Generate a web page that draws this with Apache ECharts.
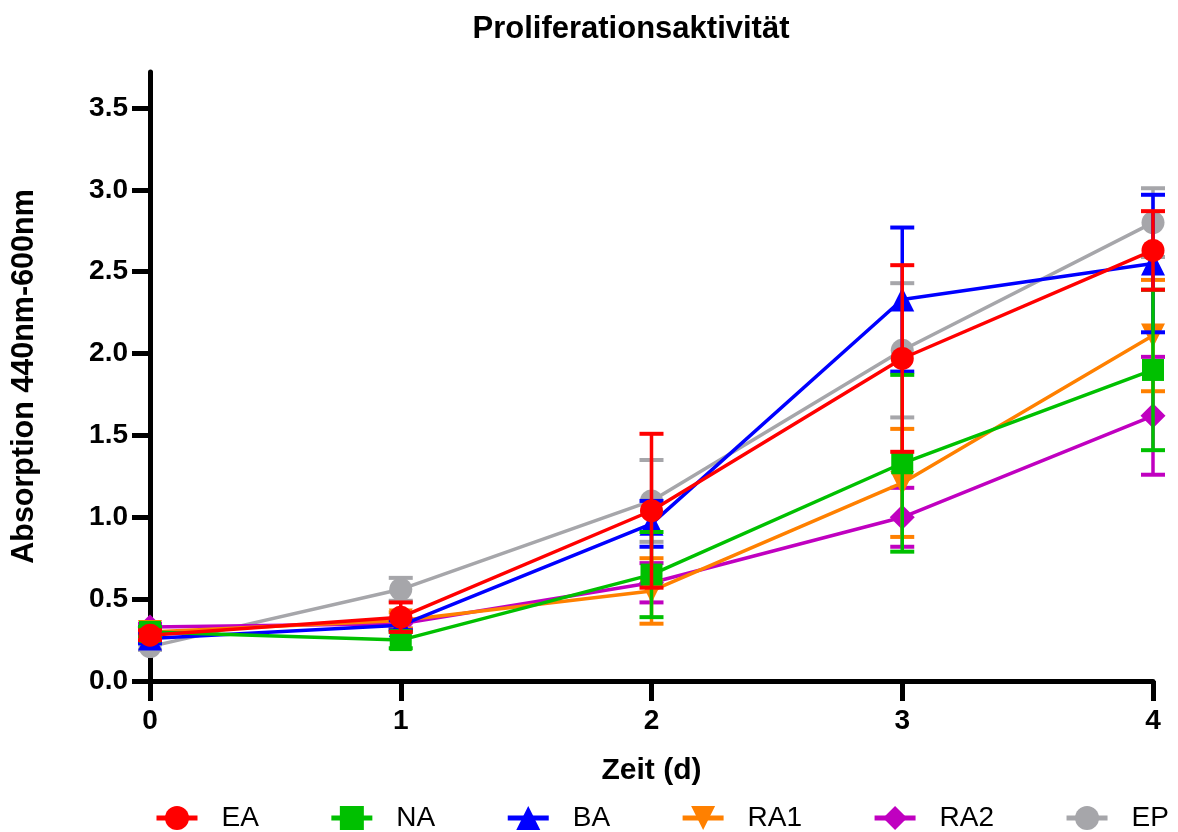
<!DOCTYPE html>
<html>
<head>
<meta charset="utf-8">
<script src="https://cdn.jsdelivr.net/npm/echarts@6/dist/echarts.min.js"></script>
<style>
  html, body { margin: 0; padding: 0; background: #fff; }
  #chart { width: 1178px; height: 832px; }
</style>
</head>
<body>
<div id="chart"></div>
<script>
// Zeitpunkte (d)
const days = [0, 1, 2, 3, 4];
const yTicks = [0, 0.5, 1.0, 1.5, 2.0, 2.5, 3.0, 3.5];

// Mittelwerte
const eaMean  = [0.28, 0.39, 1.04, 1.97, 2.63];
const naMean  = [0.30, 0.25, 0.65, 1.33, 1.90];
const baMean  = [0.26, 0.34, 0.96, 2.33, 2.55];
const ra1Mean = [0.30, 0.37, 0.55, 1.21, 2.11];
const ra2Mean = [0.33, 0.35, 0.60, 1.00, 1.62];
const epMean  = [0.21, 0.56, 1.10, 2.02, 2.80];

// Standardabweichungen
const eaSd  = [0.03, 0.09, 0.47, 0.57, 0.24];
const naSd  = [0.03, 0.05, 0.26, 0.54, 0.49];
const baSd  = [0.03, 0.03, 0.14, 0.44, 0.42];
const ra1Sd = [0.02, 0.05, 0.20, 0.33, 0.34];
const ra2Sd = [0.02, 0.03, 0.12, 0.18, 0.36];
const epSd  = [0.02, 0.07, 0.25, 0.41, 0.21];

const groups = [
  { name: 'EA',  mean: eaMean,  sd: eaSd,  color: '#FF0000', symbol: 'circle',   size: 23, rotate: 0 },
  { name: 'NA',  mean: naMean,  sd: naSd,  color: '#00C000', symbol: 'rect',     size: 22, rotate: 0 },
  { name: 'BA',  mean: baMean,  sd: baSd,  color: '#0000FF', symbol: 'triangle', size: 24, rotate: 0 },
  { name: 'RA1', mean: ra1Mean, sd: ra1Sd, color: '#FF8000', symbol: 'triangle', size: 24, rotate: 180 },
  { name: 'RA2', mean: ra2Mean, sd: ra2Sd, color: '#C000C0', symbol: 'diamond',  size: 25, rotate: 0 },
  { name: 'EP',  mean: epMean,  sd: epSd,  color: '#A6A6AA', symbol: 'circle',   size: 23, rotate: 0 }
];

const font = 'Liberation Sans, Arial, sans-serif';

const chart = echarts.init(document.getElementById('chart'));

const series = [];
// EP zuerst zeichnen, EA zuletzt (oben)
groups.slice().reverse().forEach((g, i) => {
  const z = 10 + i * 2;
  series.push({
    name: g.name + ' SD',
    type: 'custom',
    z: z,
    data: days.map((d, k) => [d, g.mean[k] - g.sd[k], g.mean[k] + g.sd[k]]),
    renderItem: (params, api) => {
      const lo = api.coord([api.value(0), api.value(1)]);
      const hi = api.coord([api.value(0), api.value(2)]);
      const w = 12;
      const style = { stroke: g.color, lineWidth: 4 };
      return {
        type: 'group',
        children: [
          { type: 'line', shape: { x1: hi[0], y1: hi[1], x2: lo[0], y2: lo[1] }, style: { stroke: g.color, lineWidth: 3.5 } },
          { type: 'line', shape: { x1: hi[0] - w, y1: hi[1], x2: hi[0] + w, y2: hi[1] }, style: style },
          { type: 'line', shape: { x1: lo[0] - w, y1: lo[1], x2: lo[0] + w, y2: lo[1] }, style: style }
        ]
      };
    }
  });
  series.push({
    name: g.name,
    type: 'line',
    z: z + 1,
    data: days.map((d, k) => [d, g.mean[k]]),
    symbol: g.symbol,
    symbolSize: g.size,
    symbolRotate: g.rotate,
    showAllSymbol: true,
    lineStyle: { color: g.color, width: 3.5 },
    itemStyle: { color: g.color },
    emphasis: { disabled: true }
  });
});

const option = {
  animation: false,
  backgroundColor: '#fff',
  title: {
    text: 'Proliferationsaktivität',
    left: 626,
    textAlign: 'center',
    top: 9,
    textStyle: { fontFamily: font, fontSize: 31, fontWeight: 'bold', color: '#000' }
  },
  legend: {
    data: groups.map(g => g.name),
    left: 154,
    top: 804,
    padding: 0,
    width: 1100,
    itemWidth: 41,
    itemHeight: 30,
    itemGap: 70,
    lineStyle: { width: 5 },
    textStyle: { fontFamily: font, fontSize: 28, color: '#000', padding: [0, 0, 0, 19] }
  },
  grid: { left: 150, right: 25, top: 72, bottom: 151, containLabel: false },
  xAxis: {
    type: 'value',
    min: 0,
    max: 4,
    interval: 1,
    name: 'Zeit (d)',
    nameLocation: 'middle',
    nameGap: 75,
    nameTextStyle: { fontFamily: font, fontSize: 30, fontWeight: 'bold', color: '#000' },
    splitLine: { show: false },
    axisLine: { lineStyle: { color: '#000', width: 5 } },
    axisTick: { length: 20, lineStyle: { color: '#000', width: 5 } },
    axisLabel: { margin: 26, fontFamily: font, fontSize: 28, fontWeight: 'bold', color: '#000' }
  },
  yAxis: {
    type: 'value',
    min: 0,
    max: 3.72,
    name: 'Absorption 440nm-600nm',
    nameLocation: 'middle',
    nameGap: 110,
    nameTextStyle: { fontFamily: font, fontSize: 30.5, fontWeight: 'bold', color: '#000' },
    splitLine: { show: false },
    axisLine: { show: true, lineStyle: { color: '#000', width: 5 } },
    axisTick: { show: true, length: 18, customValues: yTicks, lineStyle: { color: '#000', width: 5 } },
    axisLabel: {
      margin: 22,
      customValues: yTicks,
      formatter: v => v.toFixed(1),
      fontFamily: font, fontSize: 28, fontWeight: 'bold', color: '#000'
    }
  },
  series: series
};

chart.setOption(option);
</script>
</body>
</html>
